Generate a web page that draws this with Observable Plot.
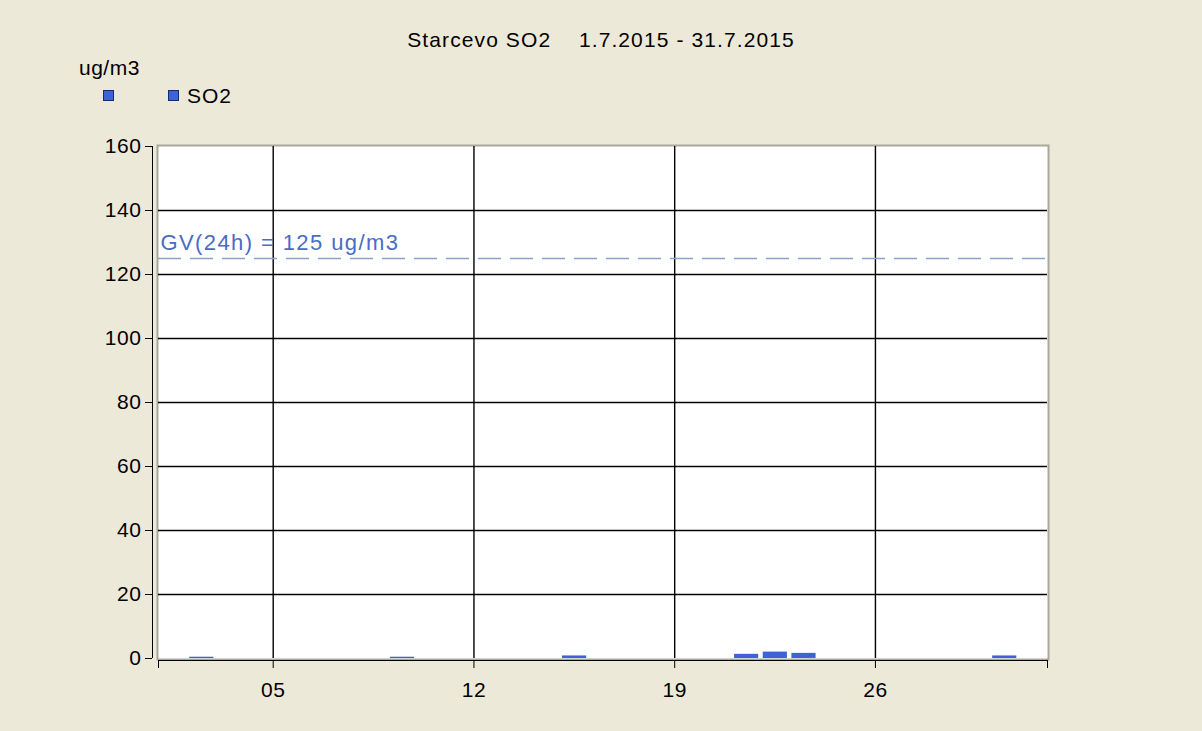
<!DOCTYPE html>
<html>
<head>
<meta charset="utf-8">
<script src="https://cdn.jsdelivr.net/npm/d3@7"></script>
<script src="https://cdn.jsdelivr.net/npm/@observablehq/plot@0.6"></script>
<style>
  html, body { margin: 0; padding: 0; background: #ece9d8; }
  body { width: 1202px; height: 731px; position: relative; overflow: hidden; font-family: "Liberation Sans", Arial, sans-serif; }
  #title { position: absolute; left: 0; width: 1202px; top: 28px; text-align: center; font-size: 21px; letter-spacing: 1.1px; color: #000; white-space: pre; line-height: 24px; }
  #unit { position: absolute; left: 79px; top: 56px; font-size: 21px; letter-spacing: 0.5px; color: #000; line-height: 24px; }
  .sw { position: absolute; width: 9px; height: 9px; background: #3d63dc; border: 1px solid #1a2a6a; }
  #lab { position: absolute; left: 187px; top: 84px; font-size: 21px; letter-spacing: 0.9px; color: #000; line-height: 24px; }
  #chart { position: absolute; left: 0; top: 0; }
</style>
</head>
<body>
<div id="chart"></div>
<div id="title">Starcevo SO2    1.7.2015 - 31.7.2015</div>
<div id="unit">ug/m3</div>
<div class="sw" style="left:103px; top:90px;"></div>
<div class="sw" style="left:168px; top:90px;"></div>
<div id="lab">SO2</div>
<script>
const days = [2, 9, 15, 21, 22, 23, 30];
const so2 = [0.4, 0.4, 0.8, 1.3, 2.0, 1.6, 0.8];
const limitValue = 125;
const limitLabel = "GV(24h) = 125 ug/m3";
const yTicks = [0, 20, 40, 60, 80, 100, 120, 140, 160];
const yGrid = [20, 40, 60, 80, 100, 120, 140];
const xTickDays = [5, 12, 19, 26];

const d = (day) => new Date(Date.UTC(2015, 6, day));
const start = d(1), end = d(32);
const data = days.map((day, i) => ({date: d(day), value: so2[i]}));
const xTicks = [start, ...xTickDays.map(d), end];
const xGrid = xTickDays.map(d);

const chart = Plot.plot({
  width: 1202,
  height: 731,
  marginLeft: 158,
  marginRight: 155,
  marginTop: 146,
  marginBottom: 73,
  style: {background: "transparent", fontFamily: "Liberation Sans, Arial, sans-serif", fontSize: "21px", color: "#000"},
  x: {type: "utc", domain: [start, end]},
  y: {domain: [0, 160]},
  marks: [
    Plot.frame({fill: "white", stroke: "#a9a79c", strokeWidth: 2, inset: -1}),
    Plot.ruleY(yGrid, {stroke: "#000", strokeWidth: 1.4}),
    Plot.ruleX(xGrid, {stroke: "#000", strokeWidth: 1.4}),
    Plot.ruleY([limitValue], {stroke: "#8aa2c8", strokeWidth: 1.5, strokeDasharray: "23,9"}),
    Plot.text([limitLabel], {frameAnchor: "left", x: start, y: limitValue, dx: 2, dy: -16, textAnchor: "start", fill: "#4a6cc4", fontSize: 22, className: "gv"}),
    Plot.rectY(data, {x: "date", interval: d3.utcDay, y: "value", fill: "#3d63dc", insetLeft: 2.5, insetRight: 2}),
    Plot.axisY({ticks: yTicks, tickSize: 7, tickPadding: 4, dx: -6, stroke: "#000", fontSize: 21, label: null}),
    Plot.ruleX([start], {y1: 0, y2: 160, dx: -6, stroke: "#000"}),
    Plot.axisX({ticks: xTicks, tickSize: 8, tickPadding: 14, dy: 2, stroke: "#000", fontSize: 21, label: null,
      tickFormat: (t) => (+t === +start || +t === +end) ? "" : d3.utcFormat("%d")(t)}),
    Plot.ruleY([0], {x1: start, x2: end, dy: 2, stroke: "#000"})
  ]
});
chart.querySelectorAll("text").forEach(t => {
  t.style.letterSpacing = (t.textContent === limitLabel) ? "1.4px" : "0.6px";
});
document.getElementById("chart").appendChild(chart);
</script>
</body>
</html>
